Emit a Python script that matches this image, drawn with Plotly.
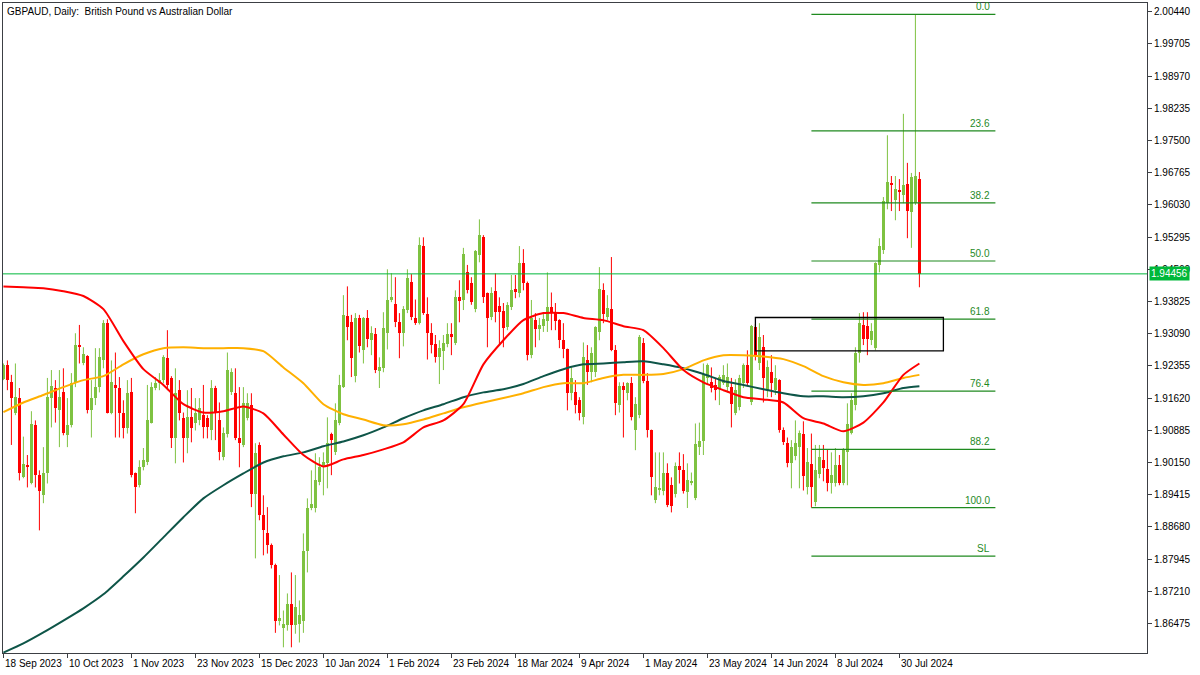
import plotly.graph_objects as go
import pandas as pd

# ---------------- data ----------------
chart_title = "GBPAUD, Daily:  British Pound vs Australian Dollar"
first_date = "2023-09-18"
broker_holidays = ["2023-12-25", "2024-01-01"]

opens = [
    1.9205, 1.9237, 1.9198, 1.9129, 1.9162, 1.8981, 1.9009, 1.8967, 1.9100, 1.8986,
    1.8940, 1.8992, 1.9162, 1.9185, 1.9134, 1.9175, 1.9077, 1.9100, 1.9196, 1.9283,
    1.9241, 1.9257, 1.9134, 1.9162, 1.9187, 1.9250, 1.9333, 1.9129, 1.9192, 1.9185,
    1.9127, 1.9093, 1.9175, 1.8990, 1.8963, 1.9004, 1.9015, 1.9106, 1.9185, 1.9196,
    1.9203, 1.9253, 1.9208, 1.9072, 1.9180, 1.9116, 1.9070, 1.9118, 1.9104, 1.9111,
    1.9123, 1.9116, 1.9088, 1.9185, 1.9111, 1.9027, 1.9081, 1.9175, 1.9173, 1.9072,
    1.9055, 1.9116, 1.9146, 1.8944, 1.9055, 1.8895, 1.8855, 1.8826, 1.8780, 1.8654,
    1.8638, 1.8643, 1.8691, 1.8643, 1.8647, 1.8654, 1.8812, 1.8911, 1.8911, 1.8970,
    1.9004, 1.9013, 1.9079, 1.9038, 1.9106, 1.9187, 1.9349, 1.9335, 1.9212, 1.9345,
    1.9271, 1.9345, 1.9294, 1.9308, 1.9224, 1.9230, 1.9310, 1.9386, 1.9377, 1.9335,
    1.9310, 1.9363, 1.9426, 1.9345, 1.9333, 1.9509, 1.9354, 1.9310, 1.9285, 1.9255,
    1.9269, 1.9285, 1.9308, 1.9287, 1.9392, 1.9386, 1.9449, 1.9424, 1.9365, 1.9489,
    1.9529, 1.9401, 1.9347, 1.9406, 1.9372, 1.9361, 1.9324, 1.9370, 1.9410, 1.9401,
    1.9470, 1.9424, 1.9260, 1.9340, 1.9319, 1.9326, 1.9338, 1.9370, 1.9356, 1.9340,
    1.9294, 1.9273, 1.9173, 1.9175, 1.9157, 1.9118, 1.9248, 1.9221, 1.9221, 1.9313,
    1.9408, 1.9347, 1.9365, 1.9271, 1.9146, 1.9189, 1.9173, 1.9196, 1.9088, 1.9123,
    1.9287, 1.9201, 1.9088, 1.8929, 1.8953, 1.8951, 1.8990, 1.8963, 1.8944, 1.9006,
    1.8997, 1.8947, 1.8967, 1.8935, 1.9050, 1.9063, 1.9208, 1.9198, 1.9192, 1.9182,
    1.9196, 1.9187, 1.9187, 1.9127, 1.9141, 1.9196, 1.9237, 1.9152, 1.9324, 1.9241,
    1.9278, 1.9180, 1.9221, 1.9180, 1.9203, 1.9088, 1.9059, 1.9013, 1.9029, 1.9050,
    1.9081, 1.8958, 1.9011, 1.8924, 1.8988, 1.9020, 1.8999, 1.8967, 1.8967, 1.9009,
    1.8967, 1.9038, 1.9083, 1.9146, 1.9264, 1.9329, 1.9326, 1.9294, 1.9276, 1.9466,
    1.9500, 1.9607, 1.9653, 1.9614, 1.9637, 1.9625, 1.9651, 1.9587, 1.9607, 1.9662,
]
highs = [
    1.9241, 1.9248, 1.9215, 1.9241, 1.9185, 1.9074, 1.9032, 1.9132, 1.9111, 1.8997,
    1.9050, 1.9208, 1.9226, 1.9203, 1.9226, 1.9230, 1.9162, 1.9219, 1.9310, 1.9329,
    1.9278, 1.9260, 1.9203, 1.9276, 1.9276, 1.9340, 1.9342, 1.9248, 1.9266, 1.9210,
    1.9157, 1.9203, 1.9208, 1.8992, 1.9020, 1.9048, 1.9192, 1.9198, 1.9210, 1.9219,
    1.9260, 1.9317, 1.9212, 1.9230, 1.9203, 1.9129, 1.9180, 1.9185, 1.9162, 1.9162,
    1.9192, 1.9123, 1.9203, 1.9190, 1.9152, 1.9095, 1.9266, 1.9230, 1.9230, 1.9187,
    1.9187, 1.9173, 1.9173, 1.9059, 1.9061, 1.8940, 1.8913, 1.8830, 1.8784, 1.8758,
    1.8677, 1.8716, 1.8764, 1.8758, 1.8700, 1.8853, 1.8933, 1.8997, 1.9036, 1.9027,
    1.9038, 1.9118, 1.9083, 1.9150, 1.9215, 1.9397, 1.9417, 1.9352, 1.9356, 1.9352,
    1.9347, 1.9363, 1.9326, 1.9322, 1.9255, 1.9358, 1.9456, 1.9447, 1.9438, 1.9356,
    1.9372, 1.9456, 1.9445, 1.9387, 1.9529, 1.9529, 1.9392, 1.9333, 1.9306, 1.9294,
    1.9306, 1.9333, 1.9333, 1.9408, 1.9431, 1.9505, 1.9466, 1.9438, 1.9500, 1.9570,
    1.9534, 1.9403, 1.9415, 1.9447, 1.9392, 1.9379, 1.9381, 1.9443, 1.9443, 1.9509,
    1.9502, 1.9428, 1.9386, 1.9356, 1.9345, 1.9356, 1.9449, 1.9403, 1.9379, 1.9342,
    1.9333, 1.9275, 1.9232, 1.9203, 1.9164, 1.9289, 1.9283, 1.9278, 1.9326, 1.9461,
    1.9424, 1.9397, 1.9484, 1.9283, 1.9198, 1.9198, 1.9198, 1.9210, 1.9164, 1.9306,
    1.9299, 1.9219, 1.9090, 1.9038, 1.9038, 1.9038, 1.9013, 1.8981, 1.9015, 1.9038,
    1.9034, 1.9013, 1.8992, 1.9104, 1.9106, 1.9241, 1.9241, 1.9232, 1.9208, 1.9215,
    1.9237, 1.9241, 1.9208, 1.9205, 1.9215, 1.9241, 1.9271, 1.9329, 1.9331, 1.9333,
    1.9306, 1.9248, 1.9260, 1.9237, 1.9205, 1.9095, 1.9072, 1.9066, 1.9111, 1.9088,
    1.9109, 1.9048, 1.9081, 1.9055, 1.9055, 1.9055, 1.9045, 1.9038, 1.9048, 1.9032,
    1.9048, 1.9150, 1.9173, 1.9278, 1.9356, 1.9358, 1.9358, 1.9333, 1.9472, 1.9527,
    1.9621, 1.9762, 1.9669, 1.9669, 1.9662, 1.9811, 1.9699, 1.9676, 2.0038, 1.9678,
]
lows = [
    1.9203, 1.9180, 1.9055, 1.9123, 1.8974, 1.8979, 1.8958, 1.8965, 1.8958, 1.8860,
    1.8922, 1.8967, 1.9095, 1.9106, 1.9050, 1.9077, 1.9050, 1.9095, 1.9187, 1.9241,
    1.9237, 1.9127, 1.9072, 1.9146, 1.9175, 1.9230, 1.9127, 1.9125, 1.9072, 1.9072,
    1.9070, 1.9081, 1.8981, 1.8899, 1.8958, 1.8997, 1.9009, 1.9104, 1.9180, 1.9180,
    1.9196, 1.9180, 1.9048, 1.9013, 1.9111, 1.9015, 1.9036, 1.9061, 1.9088, 1.9100,
    1.9070, 1.9070, 1.9066, 1.9066, 1.9020, 1.9020, 1.9072, 1.9169, 1.9066, 1.9004,
    1.9050, 1.9111, 1.8913, 1.8796, 1.8883, 1.8803, 1.8807, 1.8773, 1.8626, 1.8643,
    1.8593, 1.8631, 1.8593, 1.8624, 1.8604, 1.8626, 1.8764, 1.8906, 1.8901, 1.8963,
    1.8940, 1.8956, 1.8986, 1.9032, 1.9100, 1.9185, 1.9294, 1.9210, 1.9198, 1.9266,
    1.9241, 1.9278, 1.9260, 1.9219, 1.9185, 1.9221, 1.9273, 1.9381, 1.9324, 1.9253,
    1.9280, 1.9356, 1.9340, 1.9329, 1.9330, 1.9352, 1.9250, 1.9264, 1.9243, 1.9194,
    1.9226, 1.9278, 1.9260, 1.9283, 1.9335, 1.9363, 1.9401, 1.9375, 1.9358, 1.9472,
    1.9379, 1.9278, 1.9340, 1.9335, 1.9285, 1.9278, 1.9317, 1.9363, 1.9390, 1.9392,
    1.9408, 1.9248, 1.9253, 1.9278, 1.9294, 1.9313, 1.9313, 1.9317, 1.9317, 1.9276,
    1.9253, 1.9134, 1.9157, 1.9127, 1.9111, 1.9102, 1.9192, 1.9198, 1.9210, 1.9294,
    1.9333, 1.9340, 1.9269, 1.9123, 1.9129, 1.9072, 1.9157, 1.9111, 1.9043, 1.9116,
    1.9196, 1.9072, 1.8940, 1.8922, 1.8940, 1.8940, 1.8913, 1.8901, 1.8935, 1.8967,
    1.8944, 1.8911, 1.8963, 1.8929, 1.9032, 1.9032, 1.9192, 1.9175, 1.9157, 1.9146,
    1.9192, 1.9175, 1.9095, 1.9123, 1.9134, 1.9185, 1.9189, 1.9146, 1.9248, 1.9226,
    1.9152, 1.9164, 1.9164, 1.9169, 1.9083, 1.9055, 1.9004, 1.8956, 1.9020, 1.8956,
    1.8951, 1.8942, 1.8912, 1.8915, 1.8979, 1.8972, 1.8949, 1.8944, 1.8960, 1.8963,
    1.8963, 1.8963, 1.9079, 1.9134, 1.9243, 1.9283, 1.9260, 1.9283, 1.9271, 1.9449,
    1.9491, 1.9593, 1.9589, 1.9568, 1.9589, 1.9607, 1.9527, 1.9505, 1.9603, 1.9415,
]
closes = [
    1.9237, 1.9203, 1.9162, 1.9164, 1.8990, 1.9011, 1.9004, 1.9102, 1.8986, 1.8951,
    1.8992, 1.9164, 1.9189, 1.9139, 1.9164, 1.9083, 1.9100, 1.9196, 1.9283, 1.9278,
    1.9262, 1.9134, 1.9162, 1.9187, 1.9255, 1.9333, 1.9129, 1.9198, 1.9185, 1.9129,
    1.9093, 1.9173, 1.8986, 1.8958, 1.9004, 1.9020, 1.9111, 1.9187, 1.9196, 1.9203,
    1.9255, 1.9192, 1.9072, 1.9173, 1.9129, 1.9070, 1.9118, 1.9093, 1.9129, 1.9139,
    1.9095, 1.9095, 1.9185, 1.9129, 1.9038, 1.9083, 1.9226, 1.9221, 1.9072, 1.9059,
    1.9150, 1.9150, 1.8944, 1.9036, 1.8895, 1.8860, 1.8826, 1.8780, 1.8654, 1.8661,
    1.8647, 1.8693, 1.8643, 1.8684, 1.8666, 1.8814, 1.8911, 1.8920, 1.8974, 1.9004,
    1.9015, 1.9059, 1.9066, 1.9111, 1.9192, 1.9352, 1.9324, 1.9253, 1.9345, 1.9280,
    1.9345, 1.9296, 1.9310, 1.9226, 1.9232, 1.9322, 1.9387, 1.9392, 1.9335, 1.9310,
    1.9365, 1.9436, 1.9347, 1.9333, 1.9511, 1.9356, 1.9310, 1.9283, 1.9255, 1.9276,
    1.9287, 1.9308, 1.9301, 1.9392, 1.9383, 1.9491, 1.9408, 1.9381, 1.9498, 1.9534,
    1.9392, 1.9345, 1.9401, 1.9358, 1.9358, 1.9322, 1.9375, 1.9408, 1.9406, 1.9470,
    1.9424, 1.9260, 1.9345, 1.9319, 1.9329, 1.9342, 1.9370, 1.9356, 1.9338, 1.9294,
    1.9273, 1.9173, 1.9208, 1.9146, 1.9127, 1.9255, 1.9221, 1.9264, 1.9324, 1.9410,
    1.9354, 1.9368, 1.9271, 1.9150, 1.9189, 1.9180, 1.9196, 1.9118, 1.9148, 1.9301,
    1.9201, 1.9090, 1.8981, 1.8958, 1.8956, 1.8992, 1.8917, 1.8915, 1.9006, 1.8997,
    1.8951, 1.8974, 1.8972, 1.9057, 1.9063, 1.9217, 1.9237, 1.9185, 1.9180, 1.9210,
    1.9215, 1.9210, 1.9148, 1.9180, 1.9208, 1.9237, 1.9196, 1.9326, 1.9260, 1.9301,
    1.9208, 1.9232, 1.9196, 1.9208, 1.9088, 1.9061, 1.9013, 1.9050, 1.9059, 1.9083,
    1.8983, 1.9015, 1.8958, 1.8997, 1.9027, 1.9002, 1.8967, 1.8986, 1.9009, 1.8967,
    1.9043, 1.9102, 1.9157, 1.9266, 1.9333, 1.9296, 1.9296, 1.9315, 1.9470, 1.9509,
    1.9612, 1.9655, 1.9648, 1.9639, 1.9632, 1.9648, 1.9589, 1.9667, 1.9669, 1.94456,
]

# moving averages, sampled every 5 bars (bar numbers below)
ma_bars = [0, 5, 10, 15, 20, 25, 30, 35, 40, 45, 50, 55, 60, 65, 70, 75, 80, 85, 90, 95,
           100, 105, 110, 115, 120, 125, 130, 135, 140, 145, 150, 155, 160, 165, 170, 175,
           180, 185, 190, 195, 200, 205, 210, 215, 220, 225, 229]
ma_red = [1.9417, 1.9415, 1.9413, 1.9406, 1.9395, 1.9365, 1.9292, 1.9228, 1.9192, 1.9148,
          1.9129, 1.9132, 1.9143, 1.9127, 1.9079, 1.9032, 1.9006, 1.9022, 1.9032, 1.9045,
          1.9061, 1.9095, 1.9111, 1.9148, 1.9239, 1.9294, 1.9340, 1.9356, 1.9356, 1.9345,
          1.9340, 1.9326, 1.9317, 1.9276, 1.9226, 1.9198, 1.9180, 1.9164, 1.9159, 1.9152,
          1.9116, 1.9104, 1.9086, 1.9106, 1.9152, 1.9215, 1.9241]
ma_orange = [1.9130, 1.9152, 1.9169, 1.9187, 1.9203, 1.9212, 1.9239, 1.9262, 1.9276, 1.9278,
             1.9276, 1.9276, 1.9276, 1.9269, 1.9232, 1.9196, 1.9148, 1.9125, 1.9113, 1.9100,
             1.9102, 1.9113, 1.9127, 1.9141, 1.9152, 1.9162, 1.9173, 1.9187, 1.9196, 1.9196,
             1.9208, 1.9215, 1.9215, 1.9217, 1.9228, 1.9248, 1.9260, 1.9260, 1.9257, 1.9251,
             1.9235, 1.9212, 1.9198, 1.9192, 1.9196, 1.9208, 1.9215]
ma_teal = [1.8581, 1.8602, 1.8627, 1.8654, 1.8682, 1.8714, 1.8755, 1.8798, 1.8844, 1.8890,
           1.8933, 1.8963, 1.8990, 1.9015, 1.9029, 1.9038, 1.9052, 1.9063, 1.9077, 1.9095,
           1.9116, 1.9134, 1.9148, 1.9164, 1.9175, 1.9182, 1.9194, 1.9212, 1.9228, 1.9239,
           1.9241, 1.9244, 1.9246, 1.9239, 1.9230, 1.9217, 1.9201, 1.9192, 1.9182, 1.9173,
           1.9166, 1.9166, 1.9164, 1.9166, 1.9173, 1.9185, 1.9189]

x_tick_labels = ["18 Sep 2023", "10 Oct 2023", "1 Nov 2023", "23 Nov 2023", "15 Dec 2023",
                 "10 Jan 2024", "1 Feb 2024", "23 Feb 2024", "18 Mar 2024", "9 Apr 2024",
                 "1 May 2024", "23 May 2024", "14 Jun 2024", "8 Jul 2024", "30 Jul 2024"]
y_tick_labels = ["1.86475", "1.87210", "1.87945", "1.88680", "1.89415", "1.90150", "1.90885",
                 "1.91620", "1.92355", "1.93090", "1.93825", "1.94560", "1.95295", "1.96030",
                 "1.96765", "1.97500", "1.98235", "1.98970", "1.99705", "2.00440"]

last_price = 1.94456
fib_high, fib_high_date = 2.0038, "2024-08-05"
fib_low, fib_low_date = 1.8912, "2024-06-28"
fib_end_date = "2024-09-02"
fib_levels = [0.0, 23.6, 38.2, 50.0, 61.8, 76.4, 88.2, 100.0]
stop_loss = 1.8801
zone_start, zone_end = "2024-06-10", "2024-08-14"
zone_top, zone_bottom = 1.9346, 1.9270

# ---------------- style ----------------
UP = "#7fc241"
DOWN = "#ff0000"
FIB = "#1f8a1f"
PRICE = "#00b83a"
AXIS = "#3c3f44"
FONT = "Liberation Sans, Arial, sans-serif"

# trading calendar (bar number per date)
cal = [d.strftime("%Y-%m-%d") for d in pd.bdate_range(first_date, periods=330)
       if d.strftime("%Y-%m-%d") not in broker_holidays]
pos = {d: i for i, d in enumerate(cal)}

n = len(opens)
up = [i for i in range(n) if closes[i] >= opens[i]]
dn = [i for i in range(n) if closes[i] < opens[i]]

fig = go.Figure()


def wick_xy(idx):
    xs, ys = [], []
    for i in idx:
        xs += [i, i, None]
        ys += [lows[i], highs[i], None]
    return xs, ys


for idx, col in ((up, UP), (dn, DOWN)):
    xs, ys = wick_xy(idx)
    fig.add_trace(go.Scatter(x=xs, y=ys, mode="lines", line=dict(color=col, width=1),
                             hoverinfo="skip"))
fig.add_trace(go.Bar(x=up, y=[closes[i] - opens[i] for i in up], base=[opens[i] for i in up],
                     width=0.75, marker=dict(color=UP, line=dict(width=0))))
fig.add_trace(go.Bar(x=dn, y=[opens[i] - closes[i] for i in dn], base=[closes[i] for i in dn],
                     width=0.75, marker=dict(color=DOWN, line=dict(width=0))))

for vals, col in ((ma_teal, "#0e5548"), (ma_orange, "#ffb000"), (ma_red, "#ff0000")):
    fig.add_trace(go.Scatter(x=ma_bars, y=vals, mode="lines",
                             line=dict(color=col, width=2, shape="spline", smoothing=0.6)))

shapes = []
annotations = []
# last price line
shapes.append(dict(type="line", xref="paper", x0=0, x1=1, y0=last_price, y1=last_price,
                   line=dict(color=PRICE, width=1)))
# fib levels
x0f, x1f = pos[fib_low_date], pos[fib_end_date]
for lv in fib_levels:
    yv = fib_high - lv / 100.0 * (fib_high - fib_low)
    shapes.append(dict(type="line", x0=x0f, x1=x1f, y0=yv, y1=yv, line=dict(color=FIB, width=1.2)))
    annotations.append(dict(x=x1f, y=yv, text=f"{lv:.1f}", showarrow=False, xanchor="right",
                            yanchor="bottom", xshift=-3, yshift=0,
                            font=dict(family=FONT, size=10, color=FIB)))
shapes.append(dict(type="line", x0=x0f, x1=x1f, y0=stop_loss, y1=stop_loss,
                   line=dict(color=FIB, width=1.2)))
annotations.append(dict(x=x1f, y=stop_loss, text="SL", showarrow=False, xanchor="right",
                        yanchor="bottom", xshift=-3, font=dict(family=FONT, size=10, color=FIB)))
# zone rectangle
shapes.append(dict(type="rect", x0=pos[zone_start], x1=pos[zone_end], y0=zone_bottom, y1=zone_top,
                   line=dict(color="#000000", width=1.3), fillcolor="rgba(0,0,0,0)"))

# title
annotations.append(dict(xref="paper", yref="paper", x=0, y=1, xanchor="left", yanchor="top",
                        xshift=2, yshift=-1, text=chart_title, showarrow=False,
                        font=dict(family=FONT, size=10, color="#000")))
# last price tag
annotations.append(dict(xref="paper", x=1, y=last_price, xanchor="left", yanchor="middle",
                        xshift=2, text=f"{last_price:.5f}", showarrow=False,
                        bgcolor=PRICE, borderpad=1,
                        font=dict(family=FONT, size=10, color="#ffffff")))
# x tick labels (left aligned at tick, MetaTrader style)
x_tick_pos = [pos[pd.to_datetime(t, format="%d %b %Y").strftime("%Y-%m-%d")] for t in x_tick_labels]
for xp, t in zip(x_tick_pos, x_tick_labels):
    annotations.append(dict(x=xp, y=0, yref="paper", xanchor="left", yanchor="top",
                            xshift=0, yshift=-3, text=t, showarrow=False,
                            font=dict(family=FONT, size=10, color="#000")))

fig.update_layout(
    width=1200, height=675,
    margin=dict(l=3, r=53, t=3, b=22),
    plot_bgcolor="white", paper_bgcolor="white",
    showlegend=False, barmode="overlay", bargap=0,
    shapes=shapes, annotations=annotations,
    font=dict(family=FONT, size=10, color="#000"),
    xaxis=dict(range=[-0.1, 285.9], tickvals=x_tick_pos, showticklabels=False,
               ticks="outside", ticklen=4, tickcolor=AXIS, showgrid=False, zeroline=False,
               showline=True, mirror=True, linecolor=AXIS, linewidth=1),
    yaxis=dict(range=[1.8580, 2.0064], side="right",
               tickvals=[float(t) for t in y_tick_labels], ticktext=y_tick_labels,
               ticks="outside", ticklen=4, tickcolor=AXIS, showgrid=False, zeroline=False,
               showline=True, mirror=True, linecolor=AXIS, linewidth=1,
               tickfont=dict(family=FONT, size=10, color="#000")),
)

fig.write_html("out.html", config={"displayModeBar": False},
               post_script="document.body.style.margin='0px';document.body.style.overflow='hidden';")
